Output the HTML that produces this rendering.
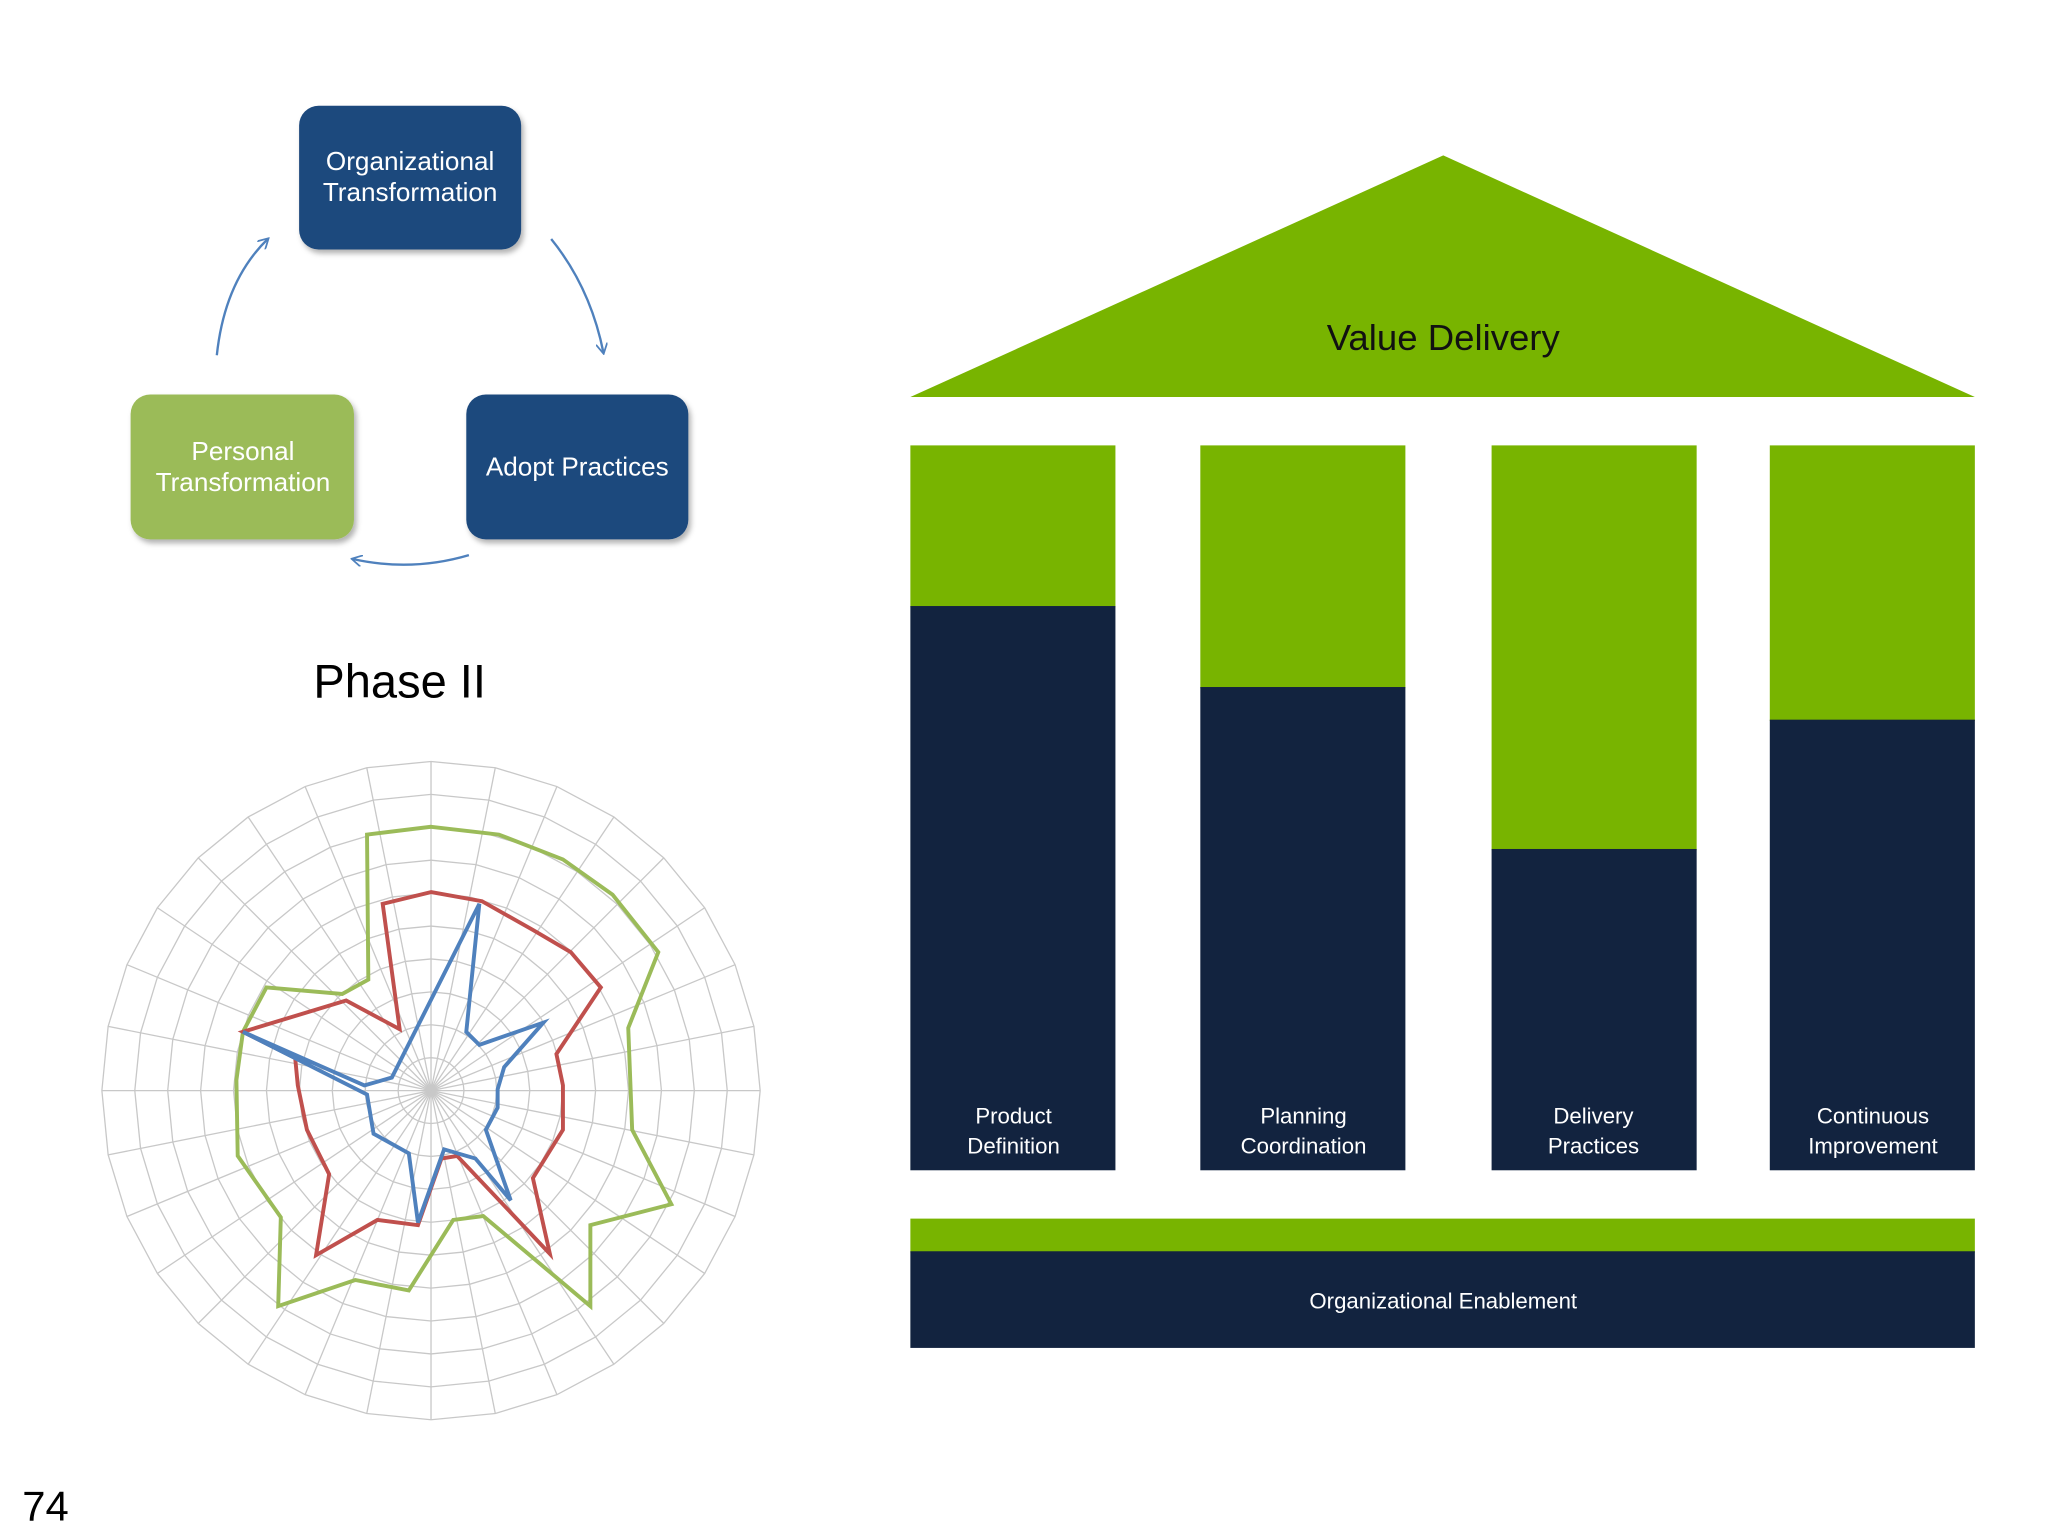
<!DOCTYPE html>
<html><head><meta charset="utf-8"><style>
html,body{margin:0;padding:0;background:#fff;}
svg{display:block;}
text{font-family:"Liberation Sans",sans-serif;}
</style></head><body>
<svg id="s" width="2048" height="1536" viewBox="0 0 1568 1176" xmlns="http://www.w3.org/2000/svg">
<defs>
<marker id="ah" viewBox="0 0 10 10" refX="8" refY="5" markerWidth="9" markerHeight="9" orient="auto" markerUnits="userSpaceOnUse">
<path d="M0,0 L9,5 L0,10" fill="none" stroke="#4f81bd" stroke-width="1.5"/></marker>
<filter id="sh" x="-10%" y="-10%" width="130%" height="130%"><feDropShadow dx="2" dy="3" stdDeviation="2" flood-color="#000" flood-opacity="0.3"/></filter>
</defs>
<rect width="1568" height="1176" fill="#fff"/>
<!-- cycle -->
<rect x="229" y="81" width="170" height="110" rx="15" fill="#1f497d" filter="url(#sh)"/>
<text x="314" y="130" fill="#fff" font-size="20" text-anchor="middle">Organizational</text>
<text x="314" y="154" fill="#fff" font-size="20" text-anchor="middle">Transformation</text>
<rect x="100" y="302" width="171" height="111" rx="15" fill="#9bbb59" filter="url(#sh)"/>
<text x="186" y="352" fill="#fff" font-size="20" text-anchor="middle">Personal</text>
<text x="186" y="376" fill="#fff" font-size="20" text-anchor="middle">Transformation</text>
<rect x="357" y="302" width="170" height="111" rx="15" fill="#1f497d" filter="url(#sh)"/>
<text x="442" y="364" fill="#fff" font-size="20" text-anchor="middle">Adopt  Practices</text>
<path d="M166,272 Q172,215 205,183" fill="none" stroke="#4f81bd" stroke-width="1.8" marker-end="url(#ah)"/>
<path d="M422,183 Q452,220 462,270" fill="none" stroke="#4f81bd" stroke-width="1.8" marker-end="url(#ah)"/>
<path d="M359,425 Q315,438 270,428" fill="none" stroke="#4f81bd" stroke-width="1.8" marker-end="url(#ah)"/>
<text x="306" y="534" fill="#000" font-size="36" text-anchor="middle">Phase II</text>
<g id="grid" stroke="#c8c8c8" stroke-width="1" fill="none"></g>
<polygon fill="none" stroke="#9bbb59" stroke-width="3" points="330,633 382,639 431,658 469,685 504,729 481,787 484,865 514,922 452,938 452,1000 370,931 347,934 313,988 272,980 213,1000 215,932 182,885 181,827 186,790 204,756 262,761 282,750 281,639"/>
<polygon fill="none" stroke="#c0504d" stroke-width="3" points="330,683 369,690 408,712 437,729 460,756 426,807 431,831 431,865 408,902 421,960 350,885 338,887 320,938 289,934 242,961 252,899 235,865 228,831 226,810 186,790 265,766 306,788 293,692"/>
<polygon fill="none" stroke="#4f81bd" stroke-width="3" points="367,692 357,790 367,800 416,783 386,817 381,834 381,848 372,865 391,919 364,887 340,880 320,936 313,883 286,868 281,838 186,790 279,831 300,825"/>
<!-- temple -->
<polygon points="1105,119 697,304 1512,304" fill="#78b400"/>
<text x="1105" y="268" font-size="28" text-anchor="middle" fill="#111">Value Delivery</text>
<g fill="#78b400">
<rect x="697" y="341" width="157" height="124"/><rect x="919" y="341" width="157" height="186"/>
<rect x="1142" y="341" width="157" height="310"/><rect x="1355" y="341" width="157" height="211"/>
<rect x="697" y="933" width="815" height="26"/></g>
<g fill="#12233f">
<rect x="697" y="464" width="157" height="432"/><rect x="919" y="526" width="157" height="370"/>
<rect x="1142" y="650" width="157" height="246"/><rect x="1355" y="551" width="157" height="345"/>
<rect x="697" y="958" width="815" height="74"/></g>
<g fill="#fff" font-size="17" text-anchor="middle">
<text x="776" y="860">Product</text><text x="776" y="883">Definition</text>
<text x="998" y="860">Planning</text><text x="998" y="883">Coordination</text>
<text x="1220" y="860">Delivery</text><text x="1220" y="883">Practices</text>
<text x="1434" y="860">Continuous</text><text x="1434" y="883">Improvement</text>
<text x="1105" y="1002">Organizational Enablement</text></g>
<text x="17" y="1164" font-size="32" fill="#000">74</text>
</svg>
<script>
(function(){var g=document.getElementById('grid'),cx=330,cy=835,R=252,n=32,ns='http://www.w3.org/2000/svg',h='';
for(var i=0;i<n;i++){var a=-Math.PI/2+i*2*Math.PI/n;h+='<line x1="'+cx+'" y1="'+cy+'" x2="'+(cx+R*Math.cos(a)).toFixed(1)+'" y2="'+(cy+R*Math.sin(a)).toFixed(1)+'"/>';}
for(var k=1;k<=10;k++){var r=R*k/10,p=[];for(var i=0;i<n;i++){var a=-Math.PI/2+i*2*Math.PI/n;p.push((cx+r*Math.cos(a)).toFixed(1)+','+(cy+r*Math.sin(a)).toFixed(1));}h+='<polygon points="'+p.join(' ')+'"/>';}
g.innerHTML=h;})();
</script>
</body></html>
